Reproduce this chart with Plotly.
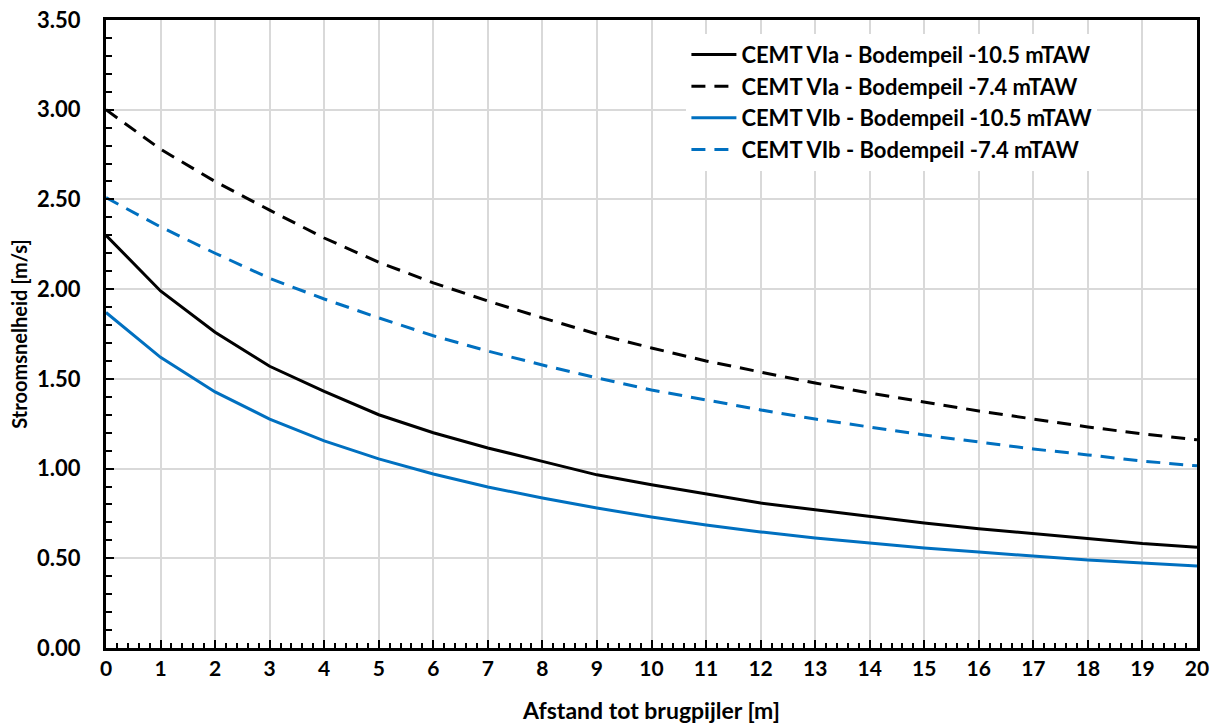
import plotly.graph_objects as go

x = list(range(0, 21))
via_105 = [2.30, 1.99, 1.76, 1.57, 1.43, 1.30, 1.20, 1.115, 1.04, 0.965, 0.91, 0.857, 0.808, 0.77, 0.732, 0.697, 0.665, 0.636, 0.608, 0.582, 0.562]
via_74 = [3.00, 2.78, 2.60, 2.44, 2.285, 2.15, 2.035, 1.934, 1.84, 1.75, 1.672, 1.60, 1.538, 1.477, 1.421, 1.371, 1.321, 1.276, 1.232, 1.193, 1.16]
vib_105 = [1.87, 1.62, 1.427, 1.276, 1.154, 1.054, 0.97, 0.897, 0.836, 0.78, 0.73, 0.686, 0.647, 0.613, 0.585, 0.557, 0.535, 0.513, 0.49, 0.474, 0.457]
vib_74 = [2.51, 2.347, 2.20, 2.06, 1.945, 1.84, 1.74, 1.655, 1.577, 1.505, 1.438, 1.382, 1.327, 1.276, 1.232, 1.187, 1.148, 1.109, 1.076, 1.042, 1.015]

names = [
    "CEMT VIa - Bodempeil -10.5 mTAW",
    "CEMT VIa - Bodempeil -7.4 mTAW",
    "CEMT VIb - Bodempeil -10.5 mTAW",
    "CEMT VIb - Bodempeil -7.4 mTAW",
]
series = [via_105, via_74, vib_105, vib_74]
colors = ["#000000", "#000000", "#0070C0", "#0070C0"]
dashes = ["solid", "14px,9px", "solid", "14px,9px"]

fig = go.Figure()
for n, s, c, d in zip(names, series, colors, dashes):
    fig.add_trace(go.Scatter(x=x, y=s, name=n, mode="lines",
                             line=dict(color=c, width=3, dash=d)))

font_family = "Lato, 'Open Sans', Arial, sans-serif"
fig.update_layout(
    width=1213, height=724,
    margin=dict(l=106, r=16, t=20, b=76, autoexpand=False),
    paper_bgcolor="white", plot_bgcolor="white",
    font=dict(family=font_family, size=20, color="black", weight="bold"),
    legend=dict(x=0.532, y=0.978, xanchor="left", yanchor="top",
                bgcolor="white", font=dict(size=22, weight="bold"),
                tracegroupgap=0, itemwidth=45),
    showlegend=True,
)
fig.update_xaxes(
    range=[0, 20], dtick=1, tick0=0, automargin=False,
    showline=True, linecolor="black", linewidth=3, mirror=True,
    showgrid=True, gridcolor="#d9d9d9", gridwidth=1.5,
    ticks="inside", ticklen=8, tickcolor="black", tickwidth=2,
    minor=dict(dtick=0.2, ticks="inside", ticklen=5, tickcolor="black", tickwidth=1.5, showgrid=False),
    zeroline=False,
    title=dict(text="Afstand tot brugpijler [m]", font=dict(size=23, weight="bold"), standoff=24),
    tickfont=dict(size=21, weight="bold"),
)
fig.update_yaxes(
    range=[0, 3.5], dtick=0.5, tick0=0, tickformat=".2f", automargin=False,
    showline=True, linecolor="black", linewidth=3, mirror=True,
    showgrid=True, gridcolor="#d9d9d9", gridwidth=1.5,
    ticks="inside", ticklen=8, tickcolor="black", tickwidth=2,
    ticklabelstandoff=18,
    minor=dict(dtick=0.1, ticks="inside", ticklen=6, tickcolor="black", tickwidth=1.5, showgrid=False),
    zeroline=False,
    title=dict(text="Stroomsnelheid [m/s]", font=dict(size=20, weight="bold"), standoff=5),
    tickfont=dict(size=22, weight="bold"),
)

fig.write_html("out.html")
